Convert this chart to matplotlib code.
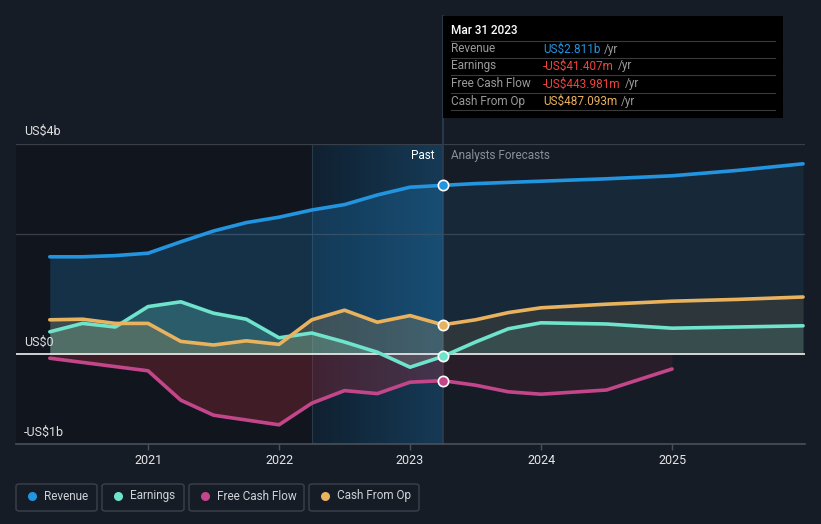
import matplotlib.pyplot as plt
from matplotlib.patches import Rectangle, FancyBboxPatch
from matplotlib.lines import Line2D
import numpy as np

plt.rcParams['font.family'] = ['Roboto', 'DejaVu Sans']

W, H = 821, 524
BG = '#161c26'

# data (US$ billions)
past_years = [2020.25, 2020.5, 2020.75, 2021.0, 2021.25, 2021.5, 2021.75,
              2022.0, 2022.25, 2022.5, 2022.75, 2023.0, 2023.25]
revenue_past = [1.62, 1.62, 1.64, 1.68, 1.87, 2.05, 2.19, 2.28, 2.40, 2.49, 2.65, 2.78, 2.811]
earnings_past = [0.37, 0.51, 0.45, 0.79, 0.87, 0.68, 0.58, 0.27, 0.35, 0.20, 0.03, -0.22, -0.041]
fcf_past = [-0.07, -0.14, -0.21, -0.28, -0.77, -1.02, -1.10, -1.18, -0.82, -0.61, -0.66, -0.47, -0.444]
cfo_past = [0.57, 0.58, 0.51, 0.51, 0.21, 0.15, 0.22, 0.16, 0.57, 0.73, 0.53, 0.64, 0.487]

fc_years = [2023.25, 2023.5, 2023.75, 2024.0, 2024.5, 2025.0, 2025.5, 2026.0]
revenue_fc = [2.811, 2.84, 2.86, 2.88, 2.92, 2.97, 3.06, 3.17]
earnings_fc = [-0.041, 0.20, 0.42, 0.52, 0.50, 0.43, 0.45, 0.47]
cfo_fc = [0.487, 0.57, 0.69, 0.77, 0.83, 0.88, 0.91, 0.95]
fcf_fc_years = [2023.25, 2023.5, 2023.75, 2024.0, 2024.5, 2025.0]
fcf_fc = [-0.444, -0.52, -0.63, -0.67, -0.60, -0.25]

tick_years = [2021, 2022, 2023, 2024, 2025]
y_labels = ['US$4b', 'US$0', '-US$1b']

names = ['Revenue', 'Earnings', 'Free Cash Flow', 'Cash From Op']
colors = ['#2394df', '#6fe3cc', '#c4468a', '#e9b25e']
values = ['US$2.811b', '-US$41.407m', '-US$443.981m', 'US$487.093m']
value_colors = ['#2394df', '#f0453f', '#f0453f', '#e9b25e']


def fx(x):
    return x / W


def fy(y):
    return 1 - y / H


fig = plt.figure(figsize=(8.21, 5.24), dpi=100, facecolor=BG)
ax = fig.add_axes([fx(16), fy(444), fx(805) - fx(16), fy(144) - fy(444)])
ax.set_facecolor(BG)
x0, x1 = 2019.992, 2026.015
ax.set_xlim(x0, x1)
ax.set_ylim(-1.5, 3.5)

# background panels: darker past, highlighted last year
ax.axvspan(x0, 2022.25, color='#10141b', alpha=0.7, lw=0, zorder=0)
grad = np.linspace(0, 1, 100).reshape(1, -1)
ax.imshow(grad, extent=[2022.25, 2023.25, -1.5, 3.5], aspect='auto',
          cmap=plt.matplotlib.colors.LinearSegmentedColormap.from_list('b', ['#0f2233', '#16405f']),
          alpha=0.85, zorder=0.5)
ax.axvline(2022.25, color='#2a3a4a', lw=0.8, zorder=0.6)

# grid lines
for v in [3.5, 2.0]:
    ax.axhline(v, color='#393f49', lw=0.9, zorder=1)

# divider between past and forecasts, running up to the tooltip
ytop = 3.5 + (144 - 16) / 60
ax.plot([2023.25, 2023.25], [-1.5, ytop], color='#2c3e52', lw=1.2,
        clip_on=False, zorder=1.5)

series_past = [revenue_past, earnings_past, fcf_past, cfo_past]
series_fc = [revenue_fc, earnings_fc, fcf_fc, cfo_fc]
fc_x = [fc_years, fc_years, fcf_fc_years, fc_years]
fill_colors = ['#2394df', '#6fe3cc', '#b02a3a', '#e9b25e']
past_alpha = [0.22, 0.25, 0.30, 0.20]
fc_alpha = [0.10, 0.14, 0.12, 0.10]

for sp, sf, xf, c, fc, pa, fa in zip(series_past, series_fc, fc_x, colors,
                                      fill_colors, past_alpha, fc_alpha):
    ax.fill_between(past_years, sp, 0, color=fc, alpha=pa, lw=0, zorder=2)
    ax.fill_between(xf, sf, 0, color=fc, alpha=fa, lw=0, zorder=2)
    ax.plot(past_years, sp, color=c, lw=2.6, zorder=4, solid_capstyle='round')
    ax.plot(xf, sf, color=c, lw=2.6, zorder=4, solid_capstyle='round')

ax.axhline(0, color='#f4eef0', lw=1.2, zorder=3)

# markers at Mar 31 2023
for sp, c in zip(series_past, colors):
    ax.scatter([2023.25], [sp[-1]], s=55, color=c, edgecolor='white', lw=1.2, zorder=6)

# axes styling
for s in ['top', 'right', 'left']:
    ax.spines[s].set_visible(False)
ax.spines['bottom'].set_color('#4a5059')
ax.spines['bottom'].set_linewidth(1.2)
ax.set_xticks(tick_years)
ax.set_xticklabels([str(t) for t in tick_years])
ax.tick_params(axis='x', colors='#4a5059', length=4, width=1, labelcolor='#e6e6e6',
               labelsize=9, pad=3)
ax.set_yticks([])

# y labels
for lab, y in zip(y_labels, [131, 342, 432]):
    fig.text(fx(24), fy(y), lab, color='#e0e0e0', fontsize=9, va='center', ha='left')

fig.text(fx(434), fy(156), 'Past', color='#ffffff', fontsize=8.5, va='center', ha='right')
fig.text(fx(451), fy(156), 'Analysts Forecasts', color='#8a8f97', fontsize=8.5,
         va='center', ha='left')

# tooltip
fig.add_artist(Rectangle((fx(443), fy(118)), fx(783) - fx(443), fy(16) - fy(118),
                         facecolor='#000000', edgecolor='none'))
fig.text(fx(451), fy(31), 'Mar 31 2023', color='#ffffff', fontsize=8.5,
         fontweight='medium', va='center')
for yl in [41, 58, 75, 93, 110]:
    fig.add_artist(Line2D([fx(451), fx(775)], [fy(yl), fy(yl)], color='#3a3a3a', lw=0.8))
row_y = [49, 66, 84, 101]
value_texts = []
for name, val, vc, y in zip(names, values, value_colors, row_y):
    fig.text(fx(451), fy(y), name, color='#9a9a9a', fontsize=8.5, va='center')
    value_texts.append(fig.text(fx(543), fy(y), val, color=vc, fontsize=8.5, va='center'))
fig.canvas.draw()
r = fig.canvas.get_renderer()
for t, y in zip(value_texts, row_y):
    bb = t.get_window_extent(renderer=r)
    fig.text(bb.x1 / W + fx(4), fy(y), '/yr', color='#9a9a9a', fontsize=8.5, va='center')

# legend
boxes = [(16, 97), (102, 184), (189, 304), (309, 419)]
for (bx0, bx1), name, c in zip(boxes, names, colors):
    fig.add_artist(FancyBboxPatch((fx(bx0), fy(511)), fx(bx1) - fx(bx0), fy(484) - fy(511),
                                  boxstyle='round,pad=0,rounding_size=0.004',
                                  facecolor='none', edgecolor='#3c424c', lw=1))
    fig.add_artist(Line2D([fx(bx0 + 16)], [fy(496)], marker='o', markersize=6.5,
                          color=c, markeredgewidth=0))
    fig.text(fx(bx0 + 28), fy(496), name, color='#cfd2d6', fontsize=8.5, va='center')

fig.savefig('out.png', dpi=100, facecolor=BG)
